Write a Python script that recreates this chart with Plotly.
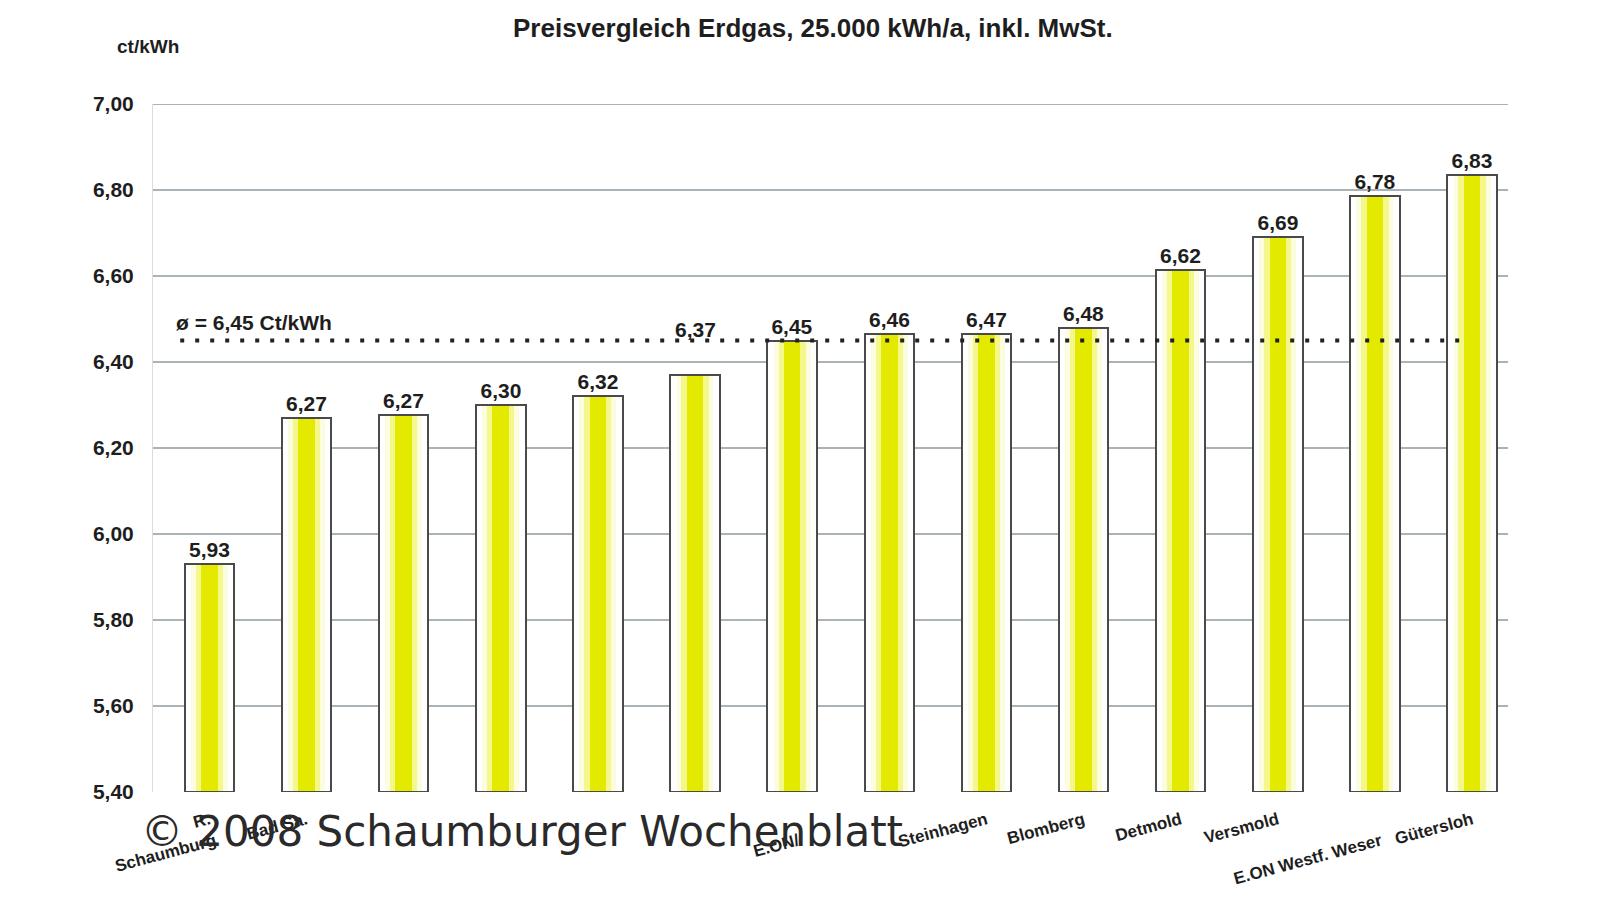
import plotly.graph_objects as go

# ---- data ----
categories = ["R. Schaumburg", "Bad Sa.", "c3", "c4", "c5", "c6", "E.ON",
              "c8", "Steinhagen", "Blomberg", "Detmold", "Versmold",
              "E.ON Westf. Weser", "Gütersloh"]
tick_labels = ["R.<br>Schaumburg", "Bad Sa.", "", "", "", "", "&nbsp;<br>E.ON/",
               "", "Steinhagen", "Blomberg", "Detmold", "Versmold",
               "&nbsp;<br>E.ON Westf. Weser", "Gütersloh"]
prices = [5.93, 6.27, 6.276, 6.30, 6.32, 6.37, 6.45, 6.465, 6.466, 6.48,
          6.615, 6.69, 6.785, 6.835]
price_labels = ["5,93", "6,27", "6,27", "6,30", "6,32", "", "6,45", "6,46",
                "6,47", "6,48", "6,62", "6,69", "6,78", "6,83"]
bar6_label = "6,37"
average = 6.45
average_label = "ø = 6,45 Ct/kWh"
y_ticks = [5.4, 5.6, 5.8, 6.0, 6.2, 6.4, 6.6, 6.8, 7.0]
y_tick_labels = ["5,40", "5,60", "5,80", "6,00", "6,20", "6,40", "6,60", "6,80", "7,00"]
title = "Preisvergleich Erdgas, 25.000 kWh/a, inkl. MwSt."
unit = "ct/kWh"
watermark = "© 2008 Schaumburger Wochenblatt"

xs = list(range(len(categories)))
BASE = 5.4
FONT = "Liberation Sans"
TXT = "#1e1e1e"

fig = go.Figure()
layers = [
    (0.51, "white"),
    (0.38, "#fcfde0"),
    (0.28, "#f4f88a"),
    (0.17, "#e3ea00"),
]
heights = [p - BASE for p in prices]
for w, c in layers:
    fig.add_trace(go.Bar(x=xs, y=heights, base=BASE, width=w,
                         marker=dict(color=c, line=dict(width=0)),
                         hoverinfo="skip", showlegend=False))
fig.add_trace(go.Bar(x=xs, y=heights, base=BASE, width=0.51,
                     marker=dict(color="rgba(0,0,0,0)", line=dict(color="#4a4a4a", width=2)),
                     text=price_labels, textposition="outside",
                     texttemplate="<b>%{text}</b>",
                     textfont=dict(family=FONT, size=21, color=TXT),
                     cliponaxis=False, showlegend=False))

# top gridline (range edge)
fig.add_shape(type="line", xref="paper", x0=0, x1=1, yref="y",
              y0=y_ticks[-1], y1=y_ticks[-1], line=dict(color="#a9b3b8", width=2), layer="below")

# average line
fig.add_trace(go.Scatter(x=[xs[0] - 0.3, xs[-1] - 0.02], y=[average, average],
                         mode="lines", line=dict(color="#222", width=4, dash="4px,11px"),
                         showlegend=False, hoverinfo="skip"))

# label for bar 6 (placed above the average line)
fig.add_annotation(x=xs[5], y=prices[5], text="<b>" + bar6_label + "</b>", showarrow=False,
                   yshift=45, font=dict(family=FONT, size=21, color=TXT))

fig.add_annotation(x=xs[0] - 0.36, y=average, xanchor="left", yanchor="bottom",
                   text="<b>" + average_label + "</b>", showarrow=False, yshift=5,
                   font=dict(family=FONT, size=21, color=TXT))

fig.add_annotation(xref="paper", yref="paper", x=-0.028, y=1.083, xanchor="left",
                   yanchor="middle", text="<b>" + unit + "</b>", showarrow=False,
                   font=dict(family=FONT, size=19, color=TXT))

fig.add_annotation(xref="paper", yref="paper", x=0.487, y=1.11, xanchor="center",
                   yanchor="middle", text="<b>" + title + "</b>", showarrow=False,
                   font=dict(family=FONT, size=26, color=TXT))

fig.add_annotation(xref="paper", yref="paper", x=-0.01, y=-0.058, xanchor="left",
                   yanchor="middle", text=watermark, showarrow=False,
                   font=dict(family="DejaVu Sans", size=42, color="#2a2a2a"))

fig.update_layout(
    width=1600, height=900,
    paper_bgcolor="white", plot_bgcolor="white",
    margin=dict(l=153, r=92, t=104, b=108),
    barmode="overlay", bargap=0,
    font=dict(family=FONT, color=TXT),
    xaxis=dict(range=[-0.58, 13.37], tickvals=xs,
               ticktext=["<b>%s</b>" % t for t in tick_labels],
               tickangle=-15, showgrid=False, zeroline=False, automargin=False,
               tickfont=dict(family=FONT, size=17, color=TXT),
               showline=False, ticks="", ticklabelstandoff=14),
    yaxis=dict(range=[5.4, 7.0], tickvals=y_ticks, automargin=False,
               ticktext=["<b>%s</b>" % t for t in y_tick_labels],
               showgrid=True, gridcolor="#a9b3b8", gridwidth=2, zeroline=False,
               tickfont=dict(family=FONT, size=21, color=TXT),
               showline=True, linecolor="#d8dcdf", linewidth=1, ticks="", ticklabelstandoff=14),
)

fig.write_html("out.html")
